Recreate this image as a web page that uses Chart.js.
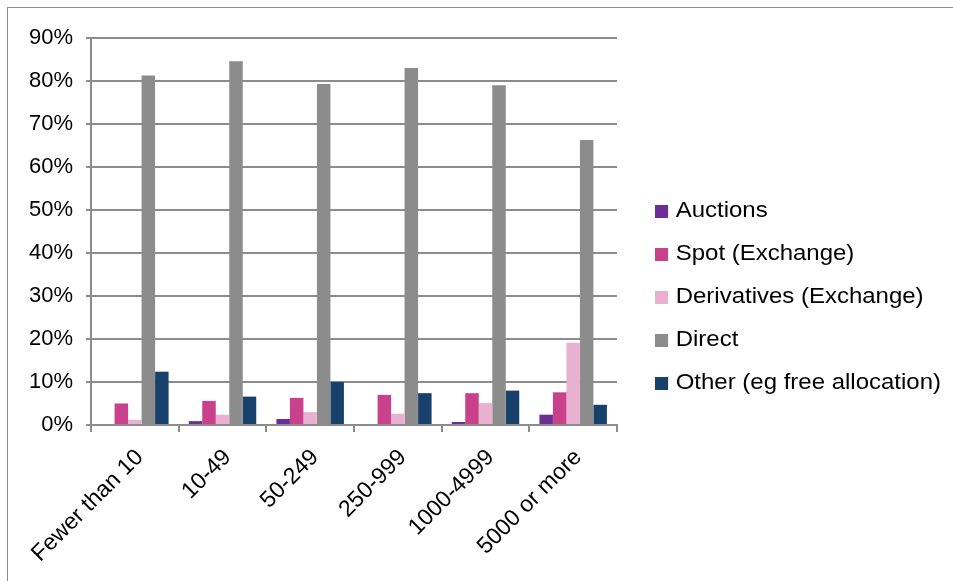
<!DOCTYPE html>
<html>
<head>
<meta charset="utf-8">
<script src="https://cdn.jsdelivr.net/npm/chart.js@4"></script>
<style>
  html, body { margin:0; padding:0; background:#fff; overflow:hidden; }
  #frame { position:absolute; left:7px; top:7px; width:1000px; height:700px; border:1px solid #8c8c8c; }
  #wrap { position:absolute; left:0; top:0; width:953px; height:581px; }
  #legend { position:absolute; left:655px; top:198px; font-family:'Liberation Sans', Arial, sans-serif; font-size:22px; color:#000;
            transform:scaleX(1.09); transform-origin:0 0; }
  #legend .item { height:43px; line-height:24px; white-space:nowrap; }
  #legend .box { display:inline-block; width:12px; height:13px; margin-right:7px; vertical-align:-1px; }
</style>
</head>
<body>
<div id="frame"></div>
<div id="wrap"><canvas id="chart"></canvas></div>
<div id="legend"></div>
<script>
const categories = ["Fewer than 10", "10-49", "50-249", "250-999", "1000-4999", "5000 or more"];
const auctions    = [0,    0.9,  1.4,  0,    0.7,  2.4];
const spot        = [5.0,  5.6,  6.3,  7.0,  7.4,  7.6];
const derivatives = [1.2,  2.4,  3.0,  2.6,  5.1,  19.1];
const direct      = [81.3, 84.6, 79.3, 83.0, 79.0, 66.3];
const other       = [12.4, 6.6,  10.0, 7.4,  8.0,  4.7];

const FONT = "'Liberation Sans', Arial, sans-serif";
const GRID = "#8c8c8c";

function series(label, data, color){
  return { label, data, backgroundColor: color, borderWidth: 0,
           categoryPercentage: 0.77, barPercentage: 1.0 };
}

const chart = new Chart(document.getElementById("chart"), {
  type: "bar",
  data: {
    labels: categories,
    datasets: [
      series("Auctions", auctions, "#6a2f94"),
      series("Spot (Exchange)", spot, "#c8418a"),
      series("Derivatives (Exchange)", derivatives, "#e8b1cf"),
      series("Direct", direct, "#8c8c8c"),
      series("Other (eg free allocation)", other, "#17406a")
    ]
  },
  options: {
    responsive: true,
    maintainAspectRatio: false,
    animation: false,
    layout: { padding: { top: 38, left: 29, right: 336, bottom: 0 } },
    plugins: { tooltip: { enabled: false }, legend: { display: false } },
    scales: {
      x: {
        grid: { display: true, drawOnChartArea: false, offset: true, color: GRID, lineWidth: 2, tickLength: 7 },
        border: { color: GRID, width: 2 },
        ticks: { color: "#000", font: { family: FONT, size: 23 }, minRotation: 45, maxRotation: 45, padding: 12, labelOffset: 5 },
        // rotated labels may run into the left margin, as in the original
        afterFit: s => { s.height = 156; s.paddingLeft = 0; s.paddingRight = 0; }
      },
      y: {
        min: 0, max: 90,
        grid: { color: GRID, lineWidth: 2, tickLength: 5 },
        border: { color: GRID, width: 2 },
        ticks: { stepSize: 10, color: "#000", padding: 13, font: { family: FONT, size: 22 },
                 callback: v => v + "%" },
        afterFit: s => { s.width = 62; }
      }
    }
  }
});

// legend as plain text, built from the chart's own datasets
document.getElementById("legend").innerHTML = chart.data.datasets.map(d =>
  `<div class="item"><span class="box" style="background:${d.backgroundColor}"></span>${d.label}</div>`
).join("");
</script>
</body>
</html>
